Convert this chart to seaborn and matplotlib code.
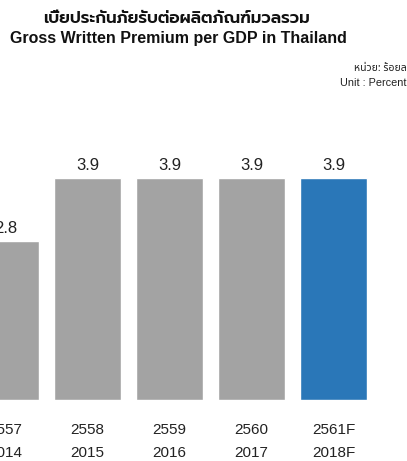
import matplotlib
matplotlib.use("Agg")
import matplotlib.pyplot as plt
import seaborn as sns

# ข้อมูล
years_be = ["2557", "2558", "2559", "2560", "2561F"]
years_ad = ["2014", "2015", "2016", "2017", "2018F"]
values = [2.8, 3.9, 3.9, 3.9, 3.9]
bar_colors = ["#a3a3a3", "#a3a3a3", "#a3a3a3", "#a3a3a3", "#2a77b8"]

sns.set_style("white")
fonts = ["Liberation Sans", "Noto Sans Thai"]
plt.rcParams["font.family"] = fonts

fig = plt.figure(figsize=(4.07, 4.61), dpi=100)
ax = fig.add_axes([0, 0.1323, 1, 0.6173])

sns.barplot(x=years_be, y=values, hue=years_be, palette=bar_colors,
            width=0.82, saturation=1, legend=False, ax=ax)

for c in ax.containers:
    ax.bar_label(c, fmt="%.1f", padding=3.5, fontsize=12, color="#222222")

ax.set_xlim(-0.067, 4.896)
ax.set_ylim(0, 5)
ax.set_yticks([])
ax.set_xticks(range(len(years_be)))
ax.set_xticklabels([f"{a}\n{b}" for a, b in zip(years_be, years_ad)],
                   fontsize=11, color="#222222")
for t in ax.get_xticklabels():
    t.set_linespacing(1.8)
ax.tick_params(axis="x", length=0, pad=16.5)
sns.despine(left=True, bottom=True)
ax.set_xlabel("")
ax.set_ylabel("")

# หัวเรื่อง
fig.text(177 / 407, 1 - 19 / 461, "เบี้ยประกันภัยรับต่อผลิตภัณฑ์มวลรวม",
         ha="center", va="center", fontsize=12, fontweight=600,
         family=["Prompt", "Liberation Sans"], color="#111111")
fig.text(178 / 407, 1 - 38 / 461, "Gross Written Premium per GDP in Thailand",
         ha="center", va="center", fontsize=11.5, fontweight="bold", color="#111111")
fig.text(410 / 407, 1 - 68 / 461, "หน่วย: ร้อยละ", ha="right", va="center",
         fontsize=7.5, family=["Noto Sans Thai", "Liberation Sans"], color="#222222")
fig.text(407 / 407, 1 - 82.5 / 461, "Unit : Percent", ha="right", va="center",
         fontsize=7.8, color="#222222")

fig.savefig("out.png", dpi=100)
